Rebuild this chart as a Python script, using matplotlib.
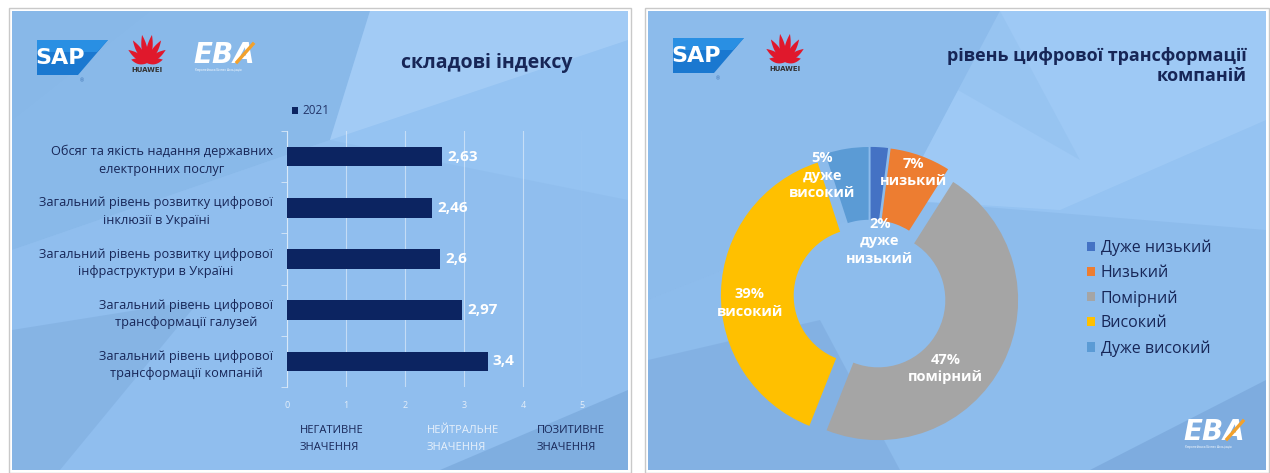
import matplotlib
matplotlib.use("Agg")
import matplotlib.pyplot as plt
from matplotlib.patches import Polygon, Rectangle
import numpy as np

# ---------------- data ----------------
bar_categories = [
    "Обсяг та якість надання державних\nелектронних послуг",
    "Загальний рівень розвитку цифрової\nінклюзії в Україні",
    "Загальний рівень розвитку цифрової\nінфраструктури в Україні",
    "Загальний рівень цифрової\nтрансформації галузей",
    "Загальний рівень цифрової\nтрансформації компаній",
]
bar_values = [2.63, 2.46, 2.6, 2.97, 3.4]
bar_series = "2021"
x_ticks = [0, 1, 2, 3, 4, 5]
scale_labels = ["НЕГАТИВНЕ\nЗНАЧЕННЯ", "НЕЙТРАЛЬНЕ\nЗНАЧЕННЯ", "ПОЗИТИВНЕ\nЗНАЧЕННЯ"]

pie_categories = ["Дуже низький", "Низький", "Помірний", "Високий", "Дуже високий"]
pie_values = [2, 7, 47, 39, 5]
pie_short = ["дуже\nнизький", "низький", "помірний", "високий", "дуже\nвисокий"]

title_left = "складові індексу"
title_right = "рівень цифрової трансформації\nкомпаній"

# ---------------- styles ----------------
W, H = 1270, 473
NAVY = "#0c2461"
TXT = "#172657"
pie_colors = ["#4472c4", "#ed7d31", "#a5a5a5", "#ffc000", "#5b9bd5"]
plt.rcParams["font.family"] = ["Open Sans", "DejaVu Sans"]

fig = plt.figure(figsize=(W / 100, H / 100), dpi=100)
fig.patch.set_facecolor("white")

bg = fig.add_axes([0, 0, 1, 1])
bg.set_xlim(0, W)
bg.set_ylim(H, 0)
bg.axis("off")

def poly(pts, color, alpha=1.0, z=1, **kw):
    bg.add_patch(Polygon(pts, closed=True, facecolor=color, edgecolor="none",
                         alpha=alpha, zorder=z, **kw))

# panels
for (x0, x1) in [(12, 628), (648, 1266)]:
    y0, y1 = 11, 470
    bg.add_patch(Rectangle((x0 - 3, y0 - 3), x1 - x0 + 6, y1 - y0 + 6, facecolor="none",
                           edgecolor="#c9c9c9", lw=1, zorder=0.5))
    bg.add_patch(Rectangle((x0, y0), x1 - x0, y1 - y0, facecolor="#95c3f2",
                           edgecolor="none", zorder=0.6))

# background geometric shapes (left panel)
poly([(12, 11), (370, 11), (330, 140), (12, 250)], "#7fb0e2", 0.5)
poly([(330, 140), (628, 40), (628, 11), (370, 11)], "#b3d6fa", 0.45)
poly([(12, 250), (330, 140), (628, 200), (628, 470), (12, 470)], "#86b5e6", 0.3)
poly([(12, 330), (200, 300), (60, 470), (12, 470)], "#7aa8da", 0.45)
poly([(440, 470), (628, 390), (628, 470)], "#6f9fd3", 0.5)
poly([(12, 120), (150, 11), (12, 11)], "#88b8e8", 0.4)

# background shapes (right panel)
poly([(648, 11), (1000, 11), (900, 200), (648, 300)], "#82b2e4", 0.45)
poly([(1000, 11), (1266, 11), (1266, 120), (1060, 210), (900, 200)], "#a8d0f8", 0.5)
poly([(648, 300), (900, 200), (1266, 230), (1266, 470), (648, 470)], "#80afe1", 0.35)
poly([(648, 360), (820, 320), (900, 470), (648, 470)], "#739fd4", 0.35)
poly([(1090, 470), (1266, 380), (1266, 470)], "#6d9ad0", 0.45)
poly([(820, 11), (1000, 11), (1080, 160)], "#8ebdec", 0.4)

# ---------------- logos ----------------
def sap(x, y):
    poly([(x, y), (x + 71, y), (x + 41, y + 35), (x, y + 35)], "#1a78d0", 1, z=2)
    poly([(x, y), (x + 71, y), (x + 60, y + 12), (x, y + 12)], "#2e95e8", 0.8, z=2)
    bg.text(x + 23, y + 18, "SAP", color="white", fontsize=16, fontweight="heavy",
            ha="center", va="center", family=["DejaVu Sans"], zorder=3)
    bg.text(x + 45, y + 41, "®", color="#3a6fb0", fontsize=3.5, ha="center", va="center", zorder=3)

def huawei(cx, cy, s=1.0):
    t = np.linspace(0, 1, 30)
    for ang, L in [(-78, 17), (-55, 24), (-32, 28), (-10, 30), (10, 30), (32, 28), (55, 24), (78, 17)]:
        a = np.deg2rad(ang)
        d = np.array([np.sin(a), -np.cos(a)])
        n = np.array([np.cos(a), np.sin(a)])
        w = 5.2 * s * np.sin(np.pi * t ** 0.6) * (0.25 + 0.75 * t)
        c = np.array([cx, cy])[None, :] + (L * s * 0.95 * t)[:, None] * d[None, :]
        left = c + w[:, None] * n[None, :]
        right = c - w[:, None] * n[None, :]
        pts = np.vstack([left, right[::-1]])
        poly(pts, "#e0182c", 1, z=3)
    bg.text(cx, cy + 7 * s, "HUAWEI", color="#333333", fontsize=5, ha="center",
            va="center", fontweight="bold", family=["DejaVu Sans"], zorder=3)

def eba(x, y, fs=20):
    bg.text(x, y, "EBA", color="white", fontsize=fs, fontstyle="italic", fontweight="bold",
            ha="left", va="center", family=["DejaVu Sans"], zorder=3)
    bg.plot([x + fs * 2.2, x + fs * 3.0], [y + fs * 0.35, y - fs * 0.55], color="#f2a12c",
            lw=fs * 0.12, zorder=4)
    bg.text(x + 2, y + fs * 0.75, "Європейська Бізнес Асоціація", color="white",
            fontsize=2.3, ha="left", va="center", zorder=3)

sap(37, 40)
huawei(147, 63)
eba(193, 55, 20)
sap(673, 38)
huawei(785, 62)
eba(1183, 432, 20)

# ---------------- titles ----------------
bg.text(487, 63, title_left, color=TXT, fontsize=14, fontweight="bold",
        ha="center", va="center", zorder=5)
bg.text(1247, 66, title_right, color=TXT, fontsize=13, fontweight="bold",
        ha="right", va="center", multialignment="right", linespacing=1.2, zorder=5)

# ---------------- bar chart ----------------
ax_l, ax_r, ax_t, ax_b = 287, 582, 131, 387
ax = fig.add_axes([ax_l / W, 1 - ax_b / H, (ax_r - ax_l) / W, (ax_b - ax_t) / H])
ax.set_facecolor("none")
ypos = np.arange(len(bar_categories))
bars = ax.barh(ypos, bar_values, height=0.38, color=NAVY, zorder=3, label=bar_series)
ax.set_xlim(0, 5)
ax.set_ylim(len(bar_categories) - 0.5, -0.5)
ax.set_xticks(x_ticks)
ax.set_xticklabels([str(t) for t in x_ticks])
ax.set_yticks(ypos)
ax.set_yticklabels(bar_categories)
for lab in ax.get_yticklabels():
    lab.set_multialignment("center")
    lab.set_color(TXT)
    lab.set_fontsize(9.2)
    lab.set_linespacing(1.45)
ax.tick_params(axis="y", length=0, pad=10)
ax.set_yticks(np.arange(-0.5, len(bar_categories), 1), minor=True)
ax.tick_params(axis="y", which="minor", length=4, color="#d8e8f8", direction="out")
ax.tick_params(axis="x", length=0, pad=10, labelsize=6.5, labelcolor="#e4eef9")
ax.xaxis.grid(True, color="#e8f1fb", alpha=0.6, lw=0.8, zorder=0)
for sp in ["top", "right", "bottom"]:
    ax.spines[sp].set_visible(False)
ax.spines["left"].set_color("#d8e8f8")
ax.spines["left"].set_linewidth(0.8)
for b, v in zip(bars, bar_values):
    ax.text(v + 0.09, b.get_y() + b.get_height() / 2, f"{v:g}".replace(".", ","),
            color="white", fontsize=11, fontweight="bold", va="center", ha="left")
leg = ax.legend(loc="center left", bbox_to_anchor=(292 / W, 1 - 111 / H),
                bbox_transform=fig.transFigure, frameon=False, fontsize=8.5,
                handlelength=0.55, handleheight=0.55, handletextpad=0.35,
                borderpad=0, borderaxespad=0)
for t in leg.get_texts():
    t.set_color("#24366a")

scale_x = [300, 427, 537]
scale_col = [TXT, "#e8f1fb", TXT]
for sx, lab, c in zip(scale_x, scale_labels, scale_col):
    bg.text(sx, 439, lab, color=c, fontsize=8, ha="left", va="center",
            multialignment="left", linespacing=1.7, zorder=5)

# ---------------- donut ----------------
cx, cy, R = 870, 296, 140
half = 160
pax = fig.add_axes([(cx - half) / W, 1 - (cy + half) / H, 2 * half / W, 2 * half / H])
pax.set_facecolor("none")
wedges, _ = pax.pie(pie_values, colors=pie_colors, startangle=90, counterclock=False,
                    radius=1.0, explode=[0.065] * len(pie_values),
                    wedgeprops=dict(width=0.52, edgecolor="none"))
pax.set_xlim(-half / R, half / R)
pax.set_ylim(-half / R, half / R)
pax.set_aspect("equal")
pax.axis("off")

label_pos = [(0.07, 0.39), (0.31, 0.88), (0.54, -0.52), (-0.86, -0.05), (-0.34, 0.86)]
for (lx, ly), v, s in zip(label_pos, pie_values, pie_short):
    pax.text(lx, ly, f"{v}%\n{s}", color="white", fontsize=10.5, fontweight="bold",
             ha="center", va="center", linespacing=1.3)

pleg = fig.legend(wedges, pie_categories, loc="upper left",
                  bbox_to_anchor=(1087 / W, 1 - 240 / H), frameon=False, fontsize=11.5,
                  handlelength=0.5, handleheight=0.5, handletextpad=0.35,
                  labelspacing=0.55, borderpad=0, borderaxespad=0)
for t in pleg.get_texts():
    t.set_color(TXT)

fig.savefig("out.png", dpi=100, facecolor=fig.get_facecolor())
